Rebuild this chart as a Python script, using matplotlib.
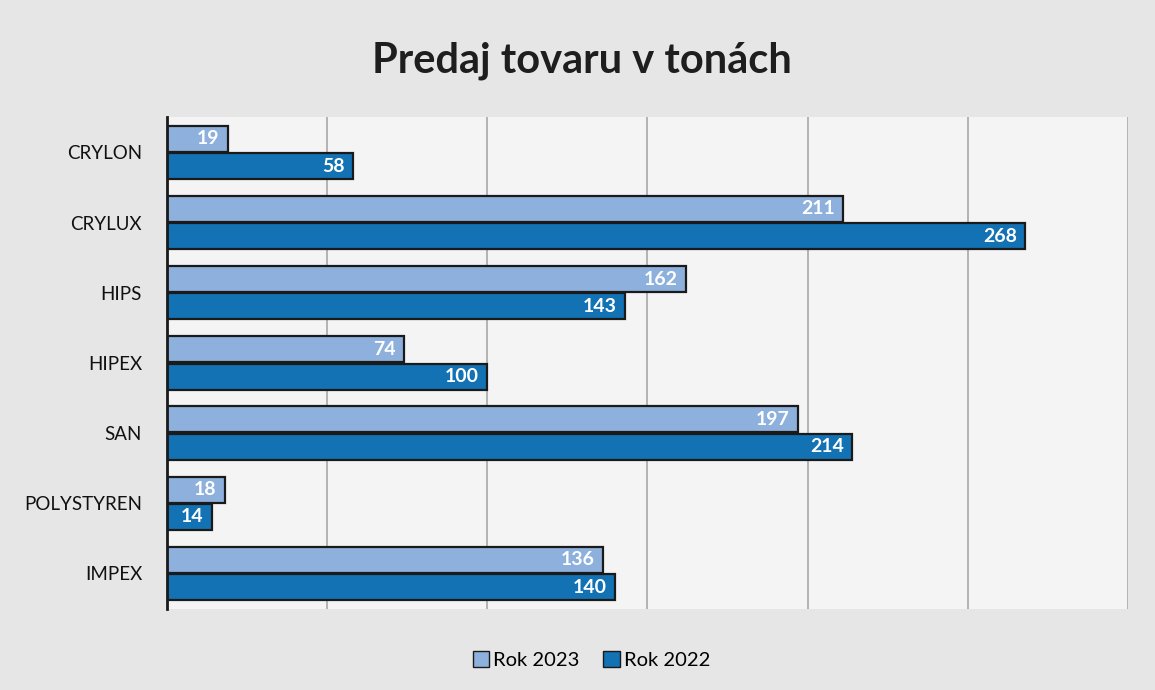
import numpy as np
import matplotlib.pyplot as plt
from matplotlib.patches import Patch

categories = ["CRYLON", "CRYLUX", "HIPS", "HIPEX", "SAN", "POLYSTYREN", "IMPEX"]
rok_2023 = [19, 211, 162, 74, 197, 18, 136]
rok_2022 = [58, 268, 143, 100, 214, 14, 140]

c23 = "#8db0dd"
c22 = "#1272b3"

plt.rcParams['font.family'] = ['Lato', 'DejaVu Sans']

fig = plt.figure(figsize=(11.55, 6.9), dpi=100, facecolor="#e6e6e6")
ax = fig.add_axes([0.1446, 0.118, 0.832, 0.712])
ax.set_facecolor("#f4f4f4")

y = np.arange(len(categories))
h = 0.37
b23 = ax.barh(y - h / 2 - 0.01, rok_2023, height=h, color=c23, edgecolor="#1a1a1a", linewidth=1.6)
b22 = ax.barh(y + h / 2 + 0.01, rok_2022, height=h, color=c22, edgecolor="#1a1a1a", linewidth=1.6)

# value labels sit inside the bar end
for bars in (b23, b22):
    ax.bar_label(bars, padding=-6, color="white", fontsize=14, fontweight="bold")
for t in ax.texts:
    t.set_horizontalalignment("right")

ax.set_xlim(0, 300)
ax.set_ylim(6.5, -0.5)
ax.set_xticks(np.arange(0, 301, 50))
ax.set_xticklabels([])
ax.tick_params(axis="x", length=0)
ax.tick_params(axis="y", length=0, pad=18, labelsize=13.5)
ax.set_yticks(y)
ax.set_yticklabels(categories, color="#111111")
ax.grid(axis="x", color="#a8a8a8", linewidth=1.2)
ax.set_axisbelow(True)
for s in ("top", "right", "bottom"):
    ax.spines[s].set_visible(False)
ax.spines["left"].set_linewidth(2)
ax.spines["left"].set_color("#1a1a1a")

fig.text(0.504, 0.912, "Predaj tovaru v tonách", ha="center", va="center",
         fontsize=30, fontweight="bold", color="#1e1e1e")

handles = [Patch(facecolor=c23, edgecolor="#1a1a1a", label="Rok 2023"),
           Patch(facecolor=c22, edgecolor="#1a1a1a", label="Rok 2022")]
fig.legend(handles=handles, loc="center", bbox_to_anchor=(0.512, 0.043), ncol=2,
           frameon=False, fontsize=14.5, handlelength=0.8, handleheight=0.8,
           handletextpad=0.2, columnspacing=1.2)

fig.savefig("out.png", dpi=100, facecolor=fig.get_facecolor())
